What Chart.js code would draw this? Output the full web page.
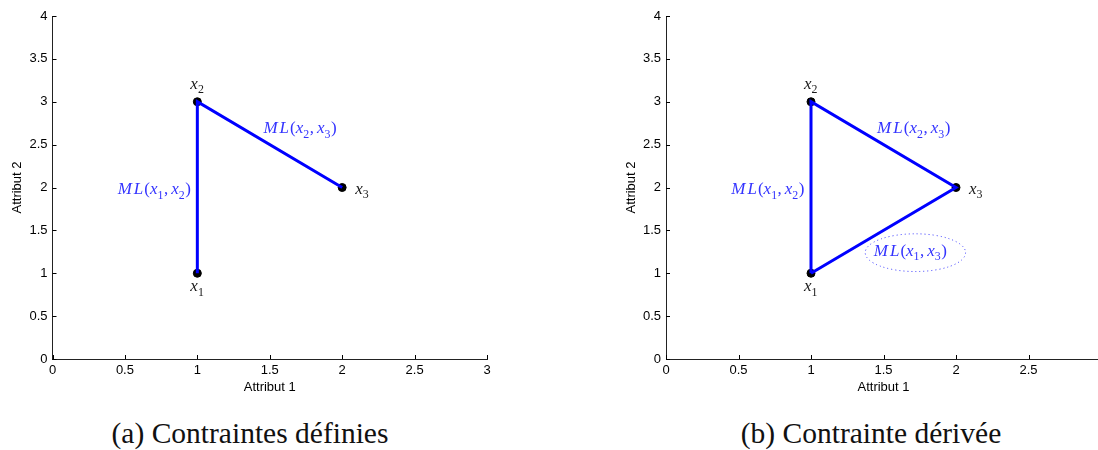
<!DOCTYPE html>
<html>
<head>
<meta charset="utf-8">
<script src="https://cdn.jsdelivr.net/npm/chart.js@4.4.1/dist/chart.umd.min.js"></script>
<style>
html, body { margin: 0; padding: 0; background: #fff; overflow: hidden; width: 1098px; height: 450px; }
canvas { position: absolute; top: 0; }
#chartA { left: 0; }
#chartB { left: 614px; }
.cap { position: absolute; top: 418px; width: 400px; text-align: center; font: 29.5px/30px "Liberation Serif", "Times New Roman", serif; color: #111; white-space: nowrap; }
</style>
</head>
<body>
<canvas id="chartA" width="500" height="400"></canvas>
<canvas id="chartB" width="500" height="400"></canvas>
<div class="cap" style="left:50px">(a) Contraintes définies</div>
<div class="cap" style="left:671px">(b) Contrainte dérivée</div>
<script>
// points x1, x2, x3
const pointX = [1, 1, 2];
const pointY = [1, 3, 2];
const pointNames = ['x_1', 'x_2', 'x_3'];

// contraintes must-link (chemin du trait)
const pathA = [0, 1, 2];        // x1 - x2 - x3
const pathB = [0, 1, 2, 0];     // x1 - x2 - x3 - x1

const xTicks = [0, 0.5, 1, 1.5, 2, 2.5, 3];
const xTickLabels = ['0', '0.5', '1', '1.5', '2', '2.5', '3'];
const yTicks = [0, 0.5, 1, 1.5, 2, 2.5, 3, 3.5, 4];
const yTickLabels = ['0', '0.5', '1', '1.5', '2', '2.5', '3', '3.5', '4'];

const xTitle = 'Attribut 1';
const yTitle = 'Attribut 2';

// etiquettes (en coordonnees des donnees)
const nameNotes = [
    { text: pointNames[0], x: 1, y: 0.79, align: 'center' },
    { text: pointNames[1], x: 1, y: 3.15, align: 'center' },
    { text: pointNames[2], x: 2.09, y: 1.93, align: 'left' }
];
const mlNotesA = [
    { text: 'ML(x_1,x_2)', x: 0.955, y: 1.92, align: 'right' },
    { text: 'ML(x_2,x_3)', x: 1.456, y: 2.63, align: 'left' }
];
const mlNotesB = mlNotesA.concat([
    { text: 'ML(x_1,x_3)', x: 1.433, y: 1.20, align: 'left', ellipse: { cx: 1.72, cy: 1.24, rx: 0.346, ry: 0.22 } }
]);

const BLUE = '#0000ff';
const TXT_BLUE = '#3434ff';

function mathParts(str) {
    const parts = [];
    for (let i = 0; i < str.length; i++) {
        const c = str[i];
        if (c === '_') parts.push({ t: str[++i], sub: true });
        else if (/[A-Za-z]/.test(c)) parts.push({ t: c, it: true });
        else parts.push({ t: c });
    }
    return parts;
}

function drawMath(ctx, str, px, py, align, color) {
    const size = 17;
    const parts = mathParts(str);
    const fontOf = p => p.sub ? (size * 0.7) + 'px "Liberation Serif"' : (p.it ? 'italic ' : '') + size + 'px "Liberation Serif"';
    let w = 0;
    parts.forEach(p => {
        ctx.font = fontOf(p);
        p.w = ctx.measureText(p.t).width;
        p.gap = 0;
        if (p.t === 'M') p.gap = 2;
        if (p.t === 'L') p.gap = 1;
        if (p.t === ',') p.gap = 3;
        if (p.sub) p.gap = 0.5;
        w += p.w + p.gap;
    });
    let cx = align === 'left' ? px : align === 'right' ? px - w : px - w / 2;
    ctx.fillStyle = color;
    ctx.textBaseline = 'alphabetic';
    ctx.textAlign = 'left';
    parts.forEach(p => {
        ctx.font = fontOf(p);
        ctx.fillText(p.t, cx, p.sub ? py + size * 0.25 : py);
        cx += p.w + p.gap;
    });
}

function notesPlugin(mlNotes) {
    return {
        id: 'notes',
        afterDraw(chart) {
            const { ctx, scales: { x, y }, chartArea: a } = chart;
            ctx.save();
            // ticks vers l'interieur
            ctx.strokeStyle = '#000';
            ctx.lineWidth = 1;
            ctx.beginPath();
            xTicks.forEach(v => {
                const px = Math.round(x.getPixelForValue(v)) + 0.5;
                ctx.moveTo(px, a.bottom); ctx.lineTo(px, a.bottom - 4);
            });
            yTicks.forEach(v => {
                const py = Math.round(y.getPixelForValue(v)) + 0.5;
                ctx.moveTo(a.left, py); ctx.lineTo(a.left + 4, py);
            });
            ctx.stroke();

            nameNotes.forEach(n => drawMath(ctx, n.text, x.getPixelForValue(n.x), y.getPixelForValue(n.y), n.align, '#1a1a1a'));
            mlNotes.forEach(n => {
                drawMath(ctx, n.text, x.getPixelForValue(n.x), y.getPixelForValue(n.y), n.align, TXT_BLUE);
                if (n.ellipse) {
                    const e = n.ellipse;
                    const cx = x.getPixelForValue(e.cx), cy = y.getPixelForValue(e.cy);
                    const rx = x.getPixelForValue(e.cx + e.rx) - cx;
                    const ry = cy - y.getPixelForValue(e.cy + e.ry);
                    ctx.strokeStyle = TXT_BLUE;
                    ctx.setLineDash([1, 3]);
                    ctx.beginPath();
                    ctx.ellipse(cx, cy, rx, ry, 0, 0, Math.PI * 2);
                    ctx.stroke();
                    ctx.setLineDash([]);
                }
            });
            ctx.restore();
        }
    };
}

function makeChart(id, path, mlNotes, yWidth) {
    const linePts = path.map(i => ({ x: pointX[i], y: pointY[i] }));
    const dots = pointX.map((v, i) => ({ x: v, y: pointY[i] }));
    const tickFont = { family: '"Liberation Sans", Arial, sans-serif', size: 13 };
    return new Chart(document.getElementById(id), {
        type: 'scatter',
        data: {
            datasets: [
                { data: linePts, showLine: true, borderColor: BLUE, borderWidth: 3, pointRadius: 0, order: 0 },
                { data: dots, pointRadius: 4, pointBackgroundColor: '#000', pointBorderColor: '#000', pointBorderWidth: 1, order: 1 }
            ]
        },
        options: {
            responsive: false,
            animation: false,
            layout: { padding: { top: 16, right: 13, left: 0, bottom: 0 } },
            plugins: { legend: { display: false }, tooltip: { enabled: false } },
            scales: {
                x: {
                    type: 'linear', min: 0, max: 3,
                    afterBuildTicks: s => { s.ticks = xTicks.map(v => ({ value: v })); },
                    afterFit: s => { s.height = 41; },
                    grid: { display: false, drawTicks: false },
                    border: { display: true, color: '#222', width: 1 },
                    ticks: { color: '#000', font: tickFont, padding: 4, maxRotation: 0, autoSkip: false,
                        callback: (v, i) => xTickLabels[i] },
                    title: { display: true, text: xTitle, color: '#000', font: tickFont, padding: { top: 0, bottom: 5 } }
                },
                y: {
                    type: 'linear', min: 0, max: 4,
                    afterBuildTicks: s => { s.ticks = yTicks.map(v => ({ value: v })); },
                    afterFit: s => { s.width = yWidth; },
                    grid: { display: false, drawTicks: false },
                    border: { display: true, color: '#222', width: 1 },
                    ticks: { color: '#000', font: tickFont, padding: 5, autoSkip: false,
                        callback: (v, i) => yTickLabels[i] },
                    title: { display: true, text: yTitle, color: '#000', font: tickFont, padding: { top: 10, bottom: 0 } }
                }
            }
        },
        plugins: [notesPlugin(mlNotes)]
    });
}

makeChart('chartA', pathA, mlNotesA, 52.5);
makeChart('chartB', pathB, mlNotesB, 52);
</script>
</body>
</html>
